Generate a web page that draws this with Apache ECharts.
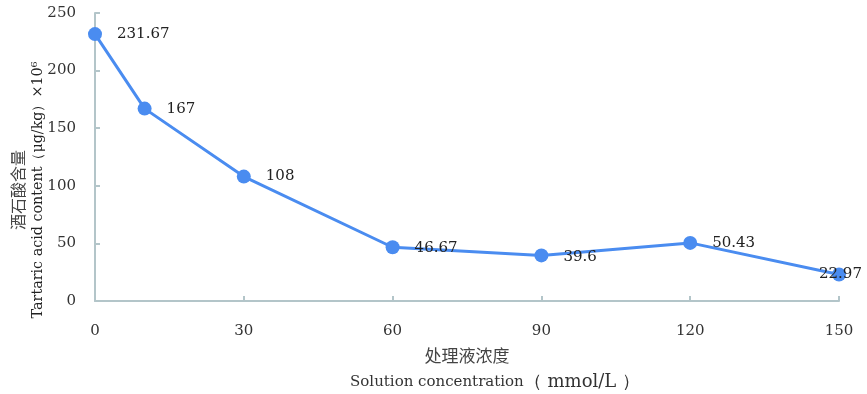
<!DOCTYPE html>
<html>
<head>
<meta charset="utf-8">
<script src="https://cdn.jsdelivr.net/npm/echarts@6/dist/echarts.min.js"></script>
<style>html,body{margin:0;padding:0;background:#fff}#c{width:867px;height:394px}</style>
</head>
<body>
<div id="c"></div>
<script>
const concentrations = [0, 10, 30, 60, 90, 120, 150];
const tartaricAcid = [231.67, 167, 108, 46.67, 39.6, 50.43, 22.97];
const xTicks = [0, 30, 60, 90, 120, 150];
const yTicks = [0, 50, 100, 150, 200, 250];
const yNameCn = '酒石酸含量';
const yNameEn = 'Tartaric acid content（μg/kg）×10⁶';

const serif = '"DejaVu Serif", "Liberation Serif", serif';
const cjk = '"Noto Sans CJK SC", sans-serif';
const axisColor = '#b3c5c9';
const blue = '#4a8cf0';

const labelOffsets = [[0, 0], [0, 0], [0, 0], [0, 1], [0, 2], [0, 0], [-42, 0]];

const chart = echarts.init(document.getElementById('c'));
chart.setOption({
  animation: false,
  grid: { left: 95, right: 28, top: 13, bottom: 93, containLabel: false, outerBoundsMode: 'none' },
  graphic: [
    { type: 'text', x: 18, y: 190, rotation: Math.PI / 2,
      style: { text: yNameCn, font: '16px ' + cjk, fill: '#444', align: 'center', verticalAlign: 'middle' } },
    { type: 'text', x: 38, y: 190, rotation: Math.PI / 2,
      style: { text: yNameEn, font: '14.3px ' + serif, fill: '#222', align: 'center', verticalAlign: 'middle' } }
  ],
  xAxis: {
    type: 'value',
    min: xTicks[0], max: xTicks[xTicks.length - 1], interval: 30,
    axisLine: { lineStyle: { color: axisColor, width: 2 } },
    axisTick: { inside: true, length: 5, lineStyle: { color: axisColor, width: 2 } },
    splitLine: { show: false },
    axisLabel: { margin: 23, fontFamily: serif, fontSize: 15, color: '#333' },
    name: '{cn|处理液浓度}\n{en|Solution concentration}{big|（ mmol/L ）}',
    nameLocation: 'middle',
    nameGap: 42,
    nameTextStyle: {
      rich: {
        cn: { fontFamily: cjk, fontSize: 17, color: '#444', lineHeight: 26 },
        en: { fontFamily: serif, fontSize: 15, color: '#333', lineHeight: 26, padding: [0, 0, 0, 56] },
        big: { fontFamily: serif, fontSize: 18, color: '#333', lineHeight: 26 }
      }
    }
  },
  yAxis: {
    type: 'value',
    min: yTicks[0], max: yTicks[yTicks.length - 1], interval: 50,
    axisLine: { show: true, lineStyle: { color: axisColor, width: 2 } },
    axisTick: { show: true, inside: true, length: 5, lineStyle: { color: axisColor, width: 2 } },
    splitLine: { show: false },
    axisLabel: { margin: 19, fontFamily: serif, fontSize: 15, color: '#333' }
  },
  series: [{
    type: 'line',
    data: concentrations.map((x, i) => ({
      value: [x, tartaricAcid[i]],
      label: { offset: labelOffsets[i] }
    })),
    symbol: 'circle',
    symbolSize: 14,
    lineStyle: { color: blue, width: 3 },
    itemStyle: { color: blue },
    label: {
      show: true,
      position: 'right',
      distance: 15,
      fontFamily: serif,
      fontSize: 15,
      color: '#222',
      formatter: p => String(p.value[1])
    }
  }]
});
</script>
</body>
</html>
